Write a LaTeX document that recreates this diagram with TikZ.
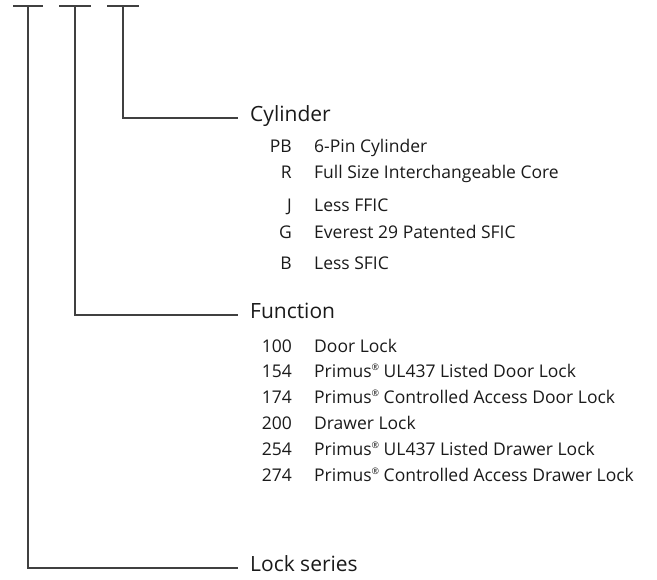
\documentclass[tikz,border=0pt]{standalone}
\usepackage{fontspec}
\setmainfont{Open Sans}
\definecolor{ln}{HTML}{404040}
\definecolor{tx}{HTML}{1A1A1A}
\tikzset{
  conn/.style={draw=ln, line width=1.4pt},
  head/.style={anchor=west, inner sep=0pt, text=tx, font=\fontsize{21}{23}\selectfont, text height=0.72em, text depth=0pt},
  code/.style={anchor=base east, inner sep=0pt, text=tx, font=\fontsize{17.5}{19}\selectfont},
  desc/.style={anchor=base west, inner sep=0pt, text=tx, font=\fontsize{17.5}{19}\selectfont}
}
\newcommand{\reg}{\raisebox{0.45em}{\fontsize{9}{10}\selectfont ®}}
\begin{document}
\begin{tikzpicture}[x=1pt,y=-1pt]
\useasboundingbox (0,0) rectangle (657,580);
% tick tops
\coordinate (t1) at (28,6);
\coordinate (t2) at (75,6);
\coordinate (t3) at (123,6);
\draw[conn] ([xshift=-15pt]t1) -- ([xshift=15pt]t1);
\draw[conn] ([xshift=-16pt]t2) -- ([xshift=16pt]t2);
\draw[conn] ([xshift=-16pt]t3) -- ([xshift=16pt]t3);
% headers
\node[head] (cyl) at (250,118) {Cylinder};
\node[head] (fun) at (250,315) {Function};
\node[head] (ser) at (250,568) {Lock series};
\draw[conn] (t3) |- ([xshift=-12pt]cyl.west);
\draw[conn] (t2) |- ([xshift=-12pt]fun.west);
\draw[conn] (t1) |- ([xshift=-12pt]ser.west);
% cylinder items
\node[code] (cPB) at (292,153) {PB};  \node[desc] (dPB) at (314,153) {6-Pin Cylinder};
\node[code] (cR)  at (292,179) {R};   \node[desc] (dR)  at (314,179) {Full Size Interchangeable Core};
\node[code] (cJ)  at (292,212) {J};   \node[desc] (dJ)  at (314,212) {Less FFIC};
\node[code] (cG)  at (292,239) {G};   \node[desc] (dG)  at (314,239) {Everest 29 Patented SFIC};
\node[code] (cB)  at (292,270) {B};   \node[desc] (dB)  at (314,270) {Less SFIC};
% function items
\node[code] (c100) at (292,353) {100}; \node[desc] (d100) at (314,353) {Door Lock};
\node[code] (c154) at (292,378) {154}; \node[desc] (d154) at (314,378) {Primus\reg{} UL437 Listed Door Lock};
\node[code] (c174) at (292,404) {174}; \node[desc] (d174) at (314,404) {Primus\reg{} Controlled Access Door Lock};
\node[code] (c200) at (292,430) {200}; \node[desc] (d200) at (314,430) {Drawer Lock};
\node[code] (c254) at (292,456) {254}; \node[desc] (d254) at (314,456) {Primus\reg{} UL437 Listed Drawer Lock};
\node[code] (c274) at (292,482) {274}; \node[desc] (d274) at (314,482) {Primus\reg{} Controlled Access Drawer Lock};
\end{tikzpicture}
\end{document}
